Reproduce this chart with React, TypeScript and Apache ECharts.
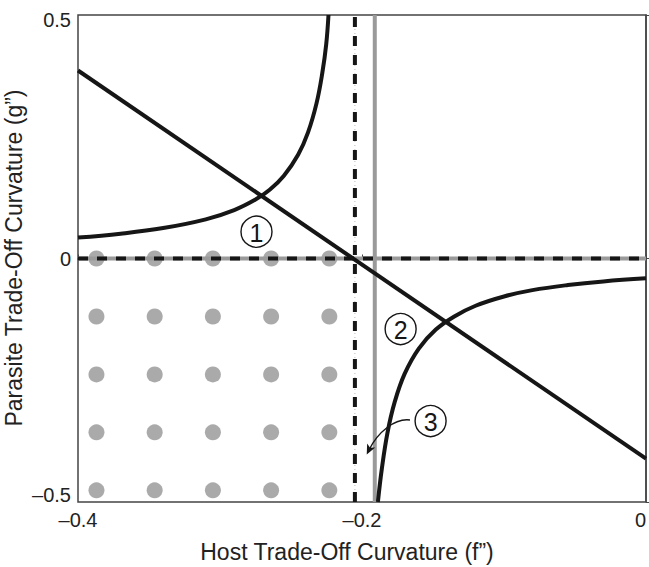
import React, { useEffect, useRef } from "react";
import * as echarts from "echarts";

// ---- data ----
const xTicks = [-0.4, -0.2, 0];
const yTicks = [-0.5, 0, 0.5];

const xTitle = "Host Trade-Off Curvature (f\u201d)";
const yTitle = "Parasite Trade-Off Curvature (g\u201d)";

const dotX = [-0.387, -0.346, -0.305, -0.264, -0.223];
const dotY = [0, -0.119, -0.238, -0.357, -0.476];

const straightLineX = [-0.4, 0];
const straightLineY = [0.386, -0.411];

const leftBranchX = [-0.4, -0.37, -0.34, -0.31, -0.29, -0.275, -0.265, -0.255, -0.245, -0.238, -0.232, -0.228, -0.2252, -0.2236];
const leftBranchY = [0.043, 0.051, 0.0625, 0.0804, 0.0994, 0.121, 0.141, 0.17, 0.213, 0.259, 0.319, 0.38, 0.44, 0.5];

const rightBranchX = [-0.1888, -0.186, -0.182, -0.177, -0.17, -0.16, -0.148, -0.135, -0.12, -0.1, -0.08, -0.055, -0.03, 0];
const rightBranchY = [-0.5, -0.431, -0.357, -0.295, -0.237, -0.185, -0.146, -0.119, -0.097, -0.078, -0.065, -0.0545, -0.047, -0.0407];

const dashedVerticalX = -0.205;
const grayVerticalX = -0.191;
const zeroLineY = 0;

const labelNames = ["1", "2", "3"];
const labelX = [-0.2743, -0.1728, -0.1517];
const labelY = [0.055, -0.1448, -0.3337];

// arrow from label 3 (data coords): start, control1, control2, end
const arrowX = [-0.1662, -0.1768, -0.1888, -0.1951];
const arrowY = [-0.3316, -0.3275, -0.3562, -0.3932];

const zip = (xs: number[], ys: number[]) => xs.map((x, i) => [x, ys[i]]);
const fmt = (v: number) => (v === 0 ? "0" : String(v).replace("-", "\u2013"));

export default function App() {
  const ref = useRef<HTMLDivElement>(null);
  useEffect(() => {
    document.body.style.margin = "0";
    const chart = echarts.init(ref.current!, null, { renderer: "svg" });
    const font = "Liberation Sans, Arial, Helvetica, sans-serif";
    const dots: number[][] = [];
    dotY.forEach((y) => dotX.forEach((x) => dots.push([x, y])));
    const black = "#161616";
    const gray = "#9a9a9a";
    const yFmt = (v: number) => {
      if (v === yTicks[2]) return "{top|" + fmt(v) + "}";
      if (v === yTicks[0]) return "{bot|" + fmt(v) + "}";
      return fmt(v);
    };
    const option: any = {
      animation: false,
      grid: {
        left: 78, top: 15, right: 3, bottom: 65, containLabel: false, outerBoundsMode: "none",
        show: true, borderColor: "#444", borderWidth: 1.5, backgroundColor: "transparent",
      },
      xAxis: {
        type: "value", min: xTicks[0], max: xTicks[xTicks.length - 1], interval: 0.2,
        axisLine: { show: true, lineStyle: { color: "#444", width: 1.5 } },
        axisTick: { show: true, inside: true, length: 4, lineStyle: { color: "#444" } },
        axisLabel: { formatter: fmt, fontFamily: font, fontSize: 20, color: "#222", margin: 8, alignMaxLabel: "right" },
        splitLine: { show: false },
      },
      yAxis: {
        type: "value", min: yTicks[0], max: yTicks[yTicks.length - 1], interval: 0.5,
        axisLine: { show: true, lineStyle: { color: "#444", width: 1.5 } },
        axisTick: { show: true, inside: true, length: 4, lineStyle: { color: "#444" } },
        axisLabel: {
          formatter: yFmt, fontFamily: font, fontSize: 20, color: "#222", margin: 7,
          rich: {
            top: { fontFamily: font, fontSize: 20, color: "#222", padding: [10, 0, 0, 0] },
            bot: { fontFamily: font, fontSize: 20, color: "#222", padding: [0, 0, 14, 0] },
          },
        },
        splitLine: { show: false },
      },
      series: [
        { type: "scatter", data: dots, symbolSize: 16, itemStyle: { color: "#959595" }, z: 1, silent: true },
        { type: "line", data: [[xTicks[0], zeroLineY], [xTicks[2], zeroLineY]], symbol: "none", lineStyle: { color: gray, width: 4 }, z: 2 },
        { type: "line", data: [[xTicks[0], zeroLineY], [xTicks[2], zeroLineY]], symbol: "none", lineStyle: { color: black, width: 4, type: [10, 9] }, z: 3 },
        { type: "line", data: [[grayVerticalX, yTicks[0]], [grayVerticalX, yTicks[2]]], symbol: "none", lineStyle: { color: gray, width: 4 }, z: 2 },
        { type: "line", data: [[dashedVerticalX, yTicks[0]], [dashedVerticalX, yTicks[2]]], symbol: "none", lineStyle: { color: "#bbb", width: 1, type: [1, 3] }, z: 2 },
        { type: "line", data: [[dashedVerticalX, yTicks[0]], [dashedVerticalX, yTicks[2]]], symbol: "none", lineStyle: { color: black, width: 4, type: [10, 9] }, z: 3 },
        { type: "line", data: zip(straightLineX, straightLineY), symbol: "none", lineStyle: { color: black, width: 4 }, z: 4 },
        { type: "line", data: zip(leftBranchX, leftBranchY), symbol: "none", smooth: 0.4, lineStyle: { color: black, width: 4 }, z: 4 },
        { type: "line", data: zip(rightBranchX, rightBranchY), symbol: "none", smooth: 0.4, lineStyle: { color: black, width: 4 }, z: 4 },
      ],
    };
    chart.setOption(option);

    const px = (x: number, y: number) => chart.convertToPixel({ gridIndex: 0 }, [x, y]) as number[];
    const graphics: any[] = [];
    // axis titles
    graphics.push({ type: "text", x: 347, y: 552, style: { text: xTitle, fontFamily: font, fontSize: 23, fill: "#222", align: "center", verticalAlign: "middle" }, z: 5 });
    graphics.push({ type: "text", x: 14, y: 258, rotation: Math.PI / 2, style: { text: yTitle, fontFamily: font, fontSize: 23, fill: "#222", align: "center", verticalAlign: "middle" }, z: 5 });
    labelNames.forEach((n, i) => {
      const [cx, cy] = px(labelX[i], labelY[i]);
      graphics.push({ type: "circle", shape: { cx, cy, r: 15.5 }, style: { fill: "#fff", stroke: black, lineWidth: 1.4 }, z: 10 });
      graphics.push({ type: "text", x: cx, y: cy + 1, style: { text: n, fontFamily: font, fontSize: 25, fill: black, align: "center", verticalAlign: "middle" }, z: 11 });
    });
    const pts = arrowX.map((x, i) => px(x, arrowY[i]));
    graphics.push({
      type: "bezierCurve",
      shape: { x1: pts[0][0], y1: pts[0][1], cpx1: pts[1][0], cpy1: pts[1][1], cpx2: pts[2][0], cpy2: pts[2][1], x2: pts[3][0], y2: pts[3][1] },
      style: { stroke: black, lineWidth: 1.4, fill: "none" }, z: 10,
    });
    const dx = pts[3][0] - pts[2][0];
    const dy = pts[3][1] - pts[2][1];
    const len = Math.hypot(dx, dy) || 1;
    const ux = dx / len, uy = dy / len;
    const tip = [pts[3][0] + ux * 5, pts[3][1] + uy * 5];
    const back = [tip[0] - ux * 10, tip[1] - uy * 10];
    graphics.push({
      type: "polygon",
      shape: { points: [tip, [back[0] - uy * 4.5, back[1] + ux * 4.5], [back[0] + ux * 2.5, back[1] + uy * 2.5], [back[0] + uy * 4.5, back[1] - ux * 4.5]] },
      style: { fill: black }, z: 10,
    });
    chart.setOption({ graphic: graphics });
    return () => chart.dispose();
  }, []);
  return <div ref={ref} style={{ width: 649, height: 567 }} />;
}
